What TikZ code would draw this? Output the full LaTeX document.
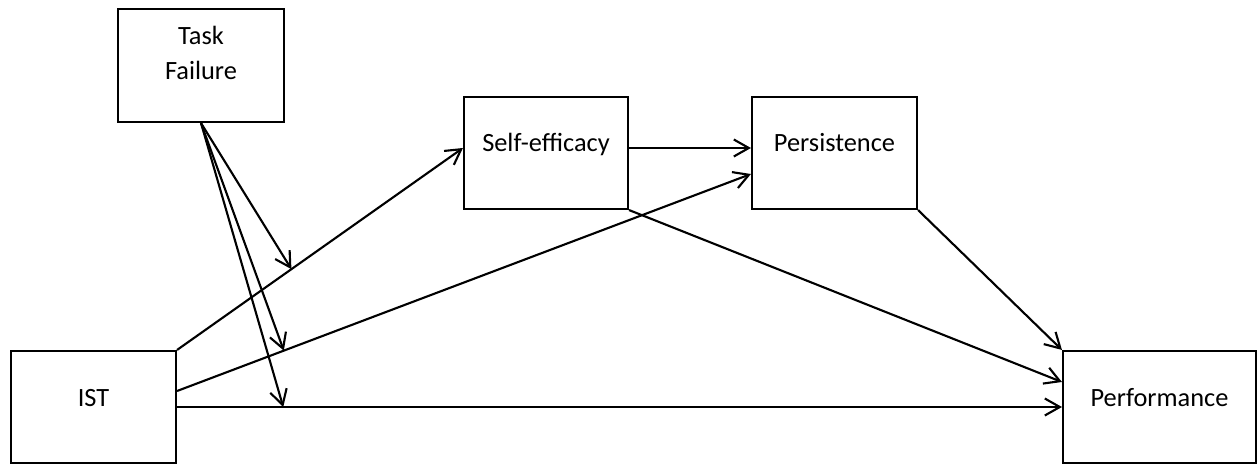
\documentclass[tikz,border=0pt]{standalone}
\usepackage{fontspec}
\setmainfont{Carlito}
\usetikzlibrary{positioning,arrows.meta}

\begin{document}
\begin{tikzpicture}[
    box/.style={draw, line width=1.2pt, minimum width=3.3cm, inner ysep=0pt,
        text height=1.1cm, text depth=1.14cm, font=\fontsize{15}{20}\selectfont},
    link/.style={line width=1.2pt, -{Straight Barb[length=3mm,width=3.4mm]}}
]
    \useasboundingbox (0,0) rectangle (25.14,-9.3);

    % Boxes
    \node[box, align=center, minimum width=3.32cm, text height=1.42cm, text depth=0.84cm] (fail) at (4.02,-1.31) {Task\\Failure};
    \node[box, minimum width=3.28cm] (eff) at (10.92,-3.06) {Self-efficacy};
    \node[box] (pers) at (16.69,-3.06) {Persistence};
    \node[box] (ist) at (1.87,-8.14) {IST};
    \node[box, minimum width=3.86cm] (perf) at (23.19,-8.14) {Performance};

    % Paths from IST
    \draw[link] (ist.north east) -- coordinate[pos=0.4] (m1) ([yshift=0.1cm]eff.west);
    \draw[link] ([yshift=0.32cm]ist.east) -- coordinate[pos=0.186] (m2) ([yshift=-0.42cm]pers.west);
    \draw[link] (ist.east) -- coordinate[pos=0.12] (m3) (perf.west);

    % Mediators
    \draw[link] ([yshift=0.1cm]eff.east) -- ([yshift=0.1cm]pers.west);
    \draw[link] (eff.south east) -- ([yshift=0.5cm]perf.west);
    \draw[link] (pers.south east) -- (perf.north west);

    % Moderation
    \draw[link] (fail.south) -- (m1);
    \draw[link] (fail.south) -- (m2);
    \draw[link] (fail.south) -- (m3);
\end{tikzpicture}
\end{document}
